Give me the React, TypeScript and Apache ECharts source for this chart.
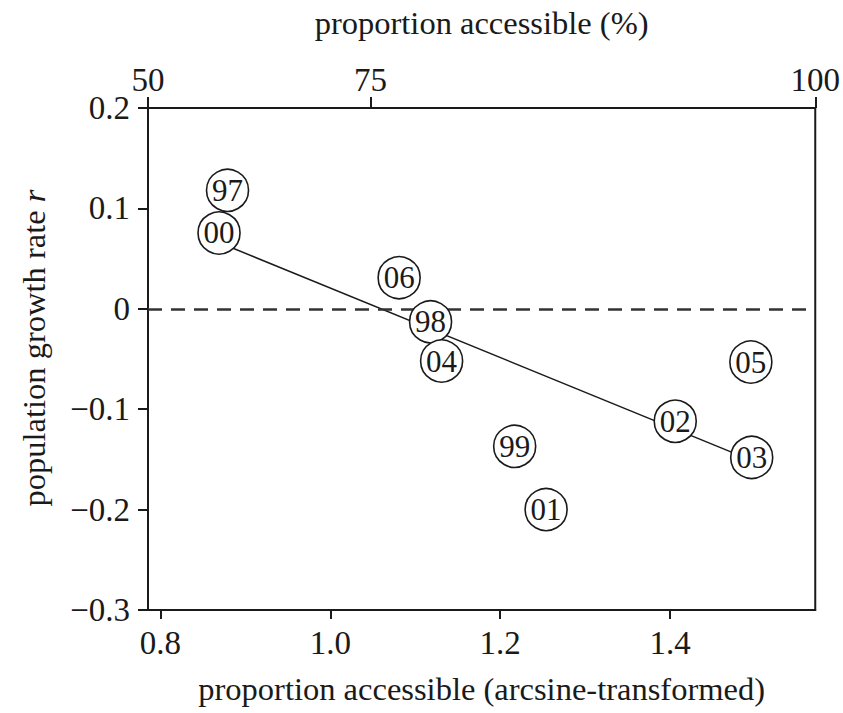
import React, { useEffect, useRef } from "react";
import * as echarts from "echarts";

// Years (labels inside circles)
const yearLabels = ["97", "00", "06", "98", "04", "99", "01", "02", "03", "05"];
// proportion accessible (arcsine-transformed)
const xValues = [0.879, 0.869, 1.081, 1.118, 1.131, 1.217, 1.254, 1.406, 1.496, 1.495];
// population growth rate r
const yValues = [0.118, 0.0755, 0.031, -0.013, -0.052, -0.137, -0.2, -0.112, -0.148, -0.053];

// regression line endpoints
const trendX = [0.869, 1.496];
const trendY = [0.066, -0.151];

// axis ticks
const bottomTicks = [0.8, 1.0, 1.2, 1.4];
const topTicksPercent = [50, 75, 100];
const yMin = -0.3;
const yMax = 0.2;
const yInterval = 0.1;

const FONT = "'Liberation Serif', 'DejaVu Serif', serif";
const INK = "#1a1a1a";
const FS = 33;
const NFS = 32.5;

const arcsine = (p: number) => Math.asin(Math.sqrt(p / 100));

export default function App() {
  const ref = useRef<HTMLDivElement>(null);
  useEffect(() => {
    if (!ref.current) return;
    const chart = echarts.init(ref.current, null, { renderer: "svg" });
    const xMin = arcsine(50);
    const xMax = arcsine(100);
    const topTickPos = topTicksPercent.map(arcsine);
    const fmtY = (v: number) => {
      if (Math.abs(v) < 1e-9) return "0";
      const s = v.toFixed(1);
      return s.startsWith("-") ? "\u2212" + s.slice(1) : s;
    };
    chart.setOption({
      animation: false,
      backgroundColor: "#ffffff",
      grid: {
        left: 148,
        right: 25,
        top: 108,
        bottom: 103,
        show: true,
        borderColor: INK,
        borderWidth: 2,
        backgroundColor: "transparent",
      },
      xAxis: [
        {
          type: "value",
          position: "bottom",
          min: xMin,
          max: xMax,
          name: "proportion accessible (arcsine-transformed)",
          nameLocation: "middle",
          nameGap: 62,
          nameTextStyle: { fontFamily: FONT, fontSize: NFS, color: INK },
          axisLine: { show: true, onZero: false, lineStyle: { color: INK, width: 2 } },
          axisTick: {
            show: true,
            inside: false,
            length: 9,
            customValues: bottomTicks,
            lineStyle: { color: INK, width: 2 },
          },
          axisLabel: {
            show: true,
            margin: 16,
            customValues: bottomTicks,
            formatter: (v: number) => v.toFixed(1),
            fontFamily: FONT,
            fontSize: FS,
            color: INK,
          },
          splitLine: { show: false },
        },
        {
          type: "value",
          position: "top",
          min: xMin,
          max: xMax,
          name: "proportion accessible (%)",
          nameLocation: "middle",
          nameGap: 69,
          nameTextStyle: { fontFamily: FONT, fontSize: NFS, color: INK },
          axisLine: { show: true, onZero: false, lineStyle: { color: INK, width: 2 } },
          axisTick: {
            show: true,
            inside: false,
            length: 11,
            customValues: topTickPos,
            lineStyle: { color: INK, width: 2 },
          },
          axisLabel: {
            show: true,
            margin: 12,
            customValues: topTickPos,
            formatter: (v: number) => String(Math.round(Math.pow(Math.sin(v), 2) * 100)),
            fontFamily: FONT,
            fontSize: FS,
            color: INK,
          },
          splitLine: { show: false },
        },
      ],
      yAxis: {
        type: "value",
        min: yMin,
        max: yMax,
        interval: yInterval,
        name: "{a|population growth rate }{b|r}",
        nameLocation: "middle",
        nameRotate: 90,
        nameGap: 98,
        nameTextStyle: {
          fontFamily: FONT,
          fontSize: NFS,
          color: INK,
          padding: [0, 0, 0, 22],
          rich: {
            a: { fontFamily: FONT, fontSize: NFS, color: INK },
            b: { fontFamily: FONT, fontSize: NFS, color: INK, fontStyle: "italic" },
          },
        },
        axisLine: { show: true, onZero: false, lineStyle: { color: INK, width: 2 } },
        axisTick: { show: true, inside: false, length: 10, lineStyle: { color: INK, width: 2 } },
        axisLabel: {
          margin: 18,
          formatter: fmtY,
          fontFamily: FONT,
          fontSize: FS,
          color: INK,
        },
        splitLine: { show: false },
      },
      series: [
        {
          type: "line",
          data: trendX.map((x, i) => [x, trendY[i]]),
          symbol: "none",
          lineStyle: { color: INK, width: 1.5 },
          z: 2,
          markLine: {
            silent: true,
            symbol: "none",
            label: { show: false },
            lineStyle: { color: "#333", width: 2.5, type: [14, 9] },
            data: [{ yAxis: 0 }],
          },
        },
        {
          type: "scatter",
          data: xValues.map((x, i) => [x, yValues[i]]),
          symbol: "circle",
          symbolSize: 42,
          itemStyle: { color: "#ffffff", borderColor: INK, borderWidth: 1.6, opacity: 1 },
          label: {
            show: true,
            position: "inside",
            formatter: (p: any) => yearLabels[p.dataIndex],
            fontFamily: FONT,
            fontSize: 31,
            color: INK,
          },
          z: 5,
        },
      ],
    });
    return () => chart.dispose();
  }, []);
  return (
    <div
      ref={ref}
      style={{ position: "fixed", left: 0, top: 0, width: 843, height: 713, background: "#fff" }}
    />
  );
}
